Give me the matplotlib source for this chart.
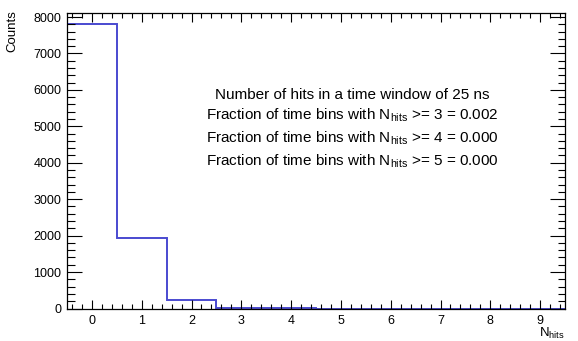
import matplotlib
matplotlib.use("Agg")
import matplotlib.pyplot as plt
from matplotlib.ticker import MultipleLocator
import numpy as np

# Histogram of the number of hits per 25 ns time window
bin_edges = [-0.5, 0.5, 1.5, 2.5, 3.5, 4.5, 5.5, 6.5, 7.5, 8.5, 9.5]
counts = [7800, 1930, 240, 20, 1, 0, 0, 0, 0, 0]
thresholds = [3, 4, 5]
x_ticks = [0, 1, 2, 3, 4, 5, 6, 7, 8, 9]
y_ticks = [0, 1000, 2000, 3000, 4000, 5000, 6000, 7000, 8000]

plt.rcParams["font.family"] = ["Liberation Sans", "DejaVu Sans"]
plt.rcParams["mathtext.fontset"] = "custom"
plt.rcParams["mathtext.rm"] = "Liberation Sans"
plt.rcParams["mathtext.it"] = "Liberation Sans:italic"

W, H = 578, 341
fig = plt.figure(figsize=(W / 100, H / 100), dpi=100)
left, right, top, bottom = 67, 565, 13, 308.5
ax = fig.add_axes([left / W, 1 - bottom / H, (right - left) / W, (bottom - top) / H])

ax.stairs(counts, bin_edges, color="#4a4ad0", linewidth=1.4)

ax.set_xlim(-0.5, 9.5)
ax.set_ylim(0, 8110)
ax.set_xticks(x_ticks)
ax.set_yticks(y_ticks)
ax.xaxis.set_minor_locator(MultipleLocator(0.2))
ax.yaxis.set_minor_locator(MultipleLocator(200))

for s in ax.spines.values():
    s.set_linewidth(0.9)
    s.set_color("black")

ax.tick_params(axis="x", which="major", direction="in", top=True, length=6.5, width=0.8,
               labelsize=9, pad=5)
ax.tick_params(axis="x", which="minor", direction="in", top=True, length=3.3, width=0.8)
ax.tick_params(axis="y", which="major", direction="in", right=True, length=10.8, width=0.8,
               labelsize=9, pad=4)
ax.tick_params(axis="y", which="minor", direction="in", right=True, length=5.4, width=0.8)

# Axis titles placed ROOT-style at the far ends of the axes
fig.text(12.5 / W, 1 - 10 / H, "Counts", rotation=90, ha="center", va="top", fontsize=9.5)
fig.text(right / W, 1 - 337 / H, r"N$_{\mathrm{hits}}$", ha="right", va="baseline", fontsize=9.5)

# Annotation with fractions of time bins above each threshold
total = float(np.sum(counts))
lines = ["Number of hits in a time window of 25 ns"]
for t in thresholds:
    frac = np.sum(counts[t:]) / total
    lines.append(r"Fraction of time bins with N$_{\mathrm{hits}}$ >= %d = %.3f" % (t, frac))
ys = [95, 115, 138, 161]
for txt, y in zip(lines, ys):
    fig.text(352 / W, 1 - y / H, txt, ha="center", va="center", fontsize=11)

fig.savefig("out.png", dpi=100)
